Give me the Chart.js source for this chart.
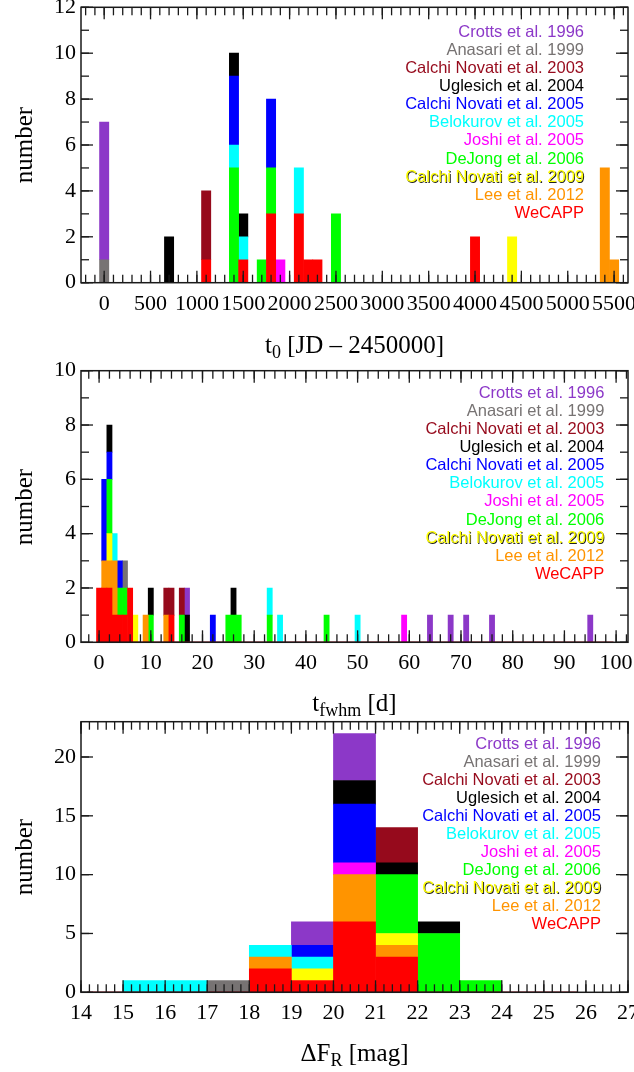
<!DOCTYPE html>
<html>
<head>
<meta charset="utf-8">
<script src="https://cdn.jsdelivr.net/npm/chart.js@4.4.1/dist/chart.umd.min.js"></script>
<style>
  html, body { margin: 0; padding: 0; background: #fff; }
  body { position: relative; width: 634px; height: 1072px; overflow: hidden; }
  canvas { position: absolute; left: 0; }
  .legend { position: absolute; text-align: right; font-family: "Liberation Sans", Arial, sans-serif;
            font-size: 16.5px; line-height: 18.1px; white-space: nowrap; }
  .xtitle { position: absolute; left: 154.5px; width: 400px; text-align: center;
            font-family: "Liberation Serif", "Times New Roman", serif; font-size: 25px; line-height: 25px; color: #000; white-space: nowrap; }
  .xtitle sub { font-size: 18px; vertical-align: -5px; line-height: 0; }
  .ytitle { position: absolute; width: 200px; text-align: center; font-family: "Liberation Serif", "Times New Roman", serif;
            font-size: 25px; line-height: 25px; color: #000; transform: translate(-50%, -50%) rotate(-90deg); }
</style>
</head>
<body>
<canvas id="panelT0" width="634" height="330" style="top:0px"></canvas>
<canvas id="panelFwhm" width="634" height="320" style="top:360px"></canvas>
<canvas id="panelDF" width="634" height="330" style="top:710px"></canvas>

<div class="ytitle" style="left:23.3px; top:145px">number</div>
<div class="ytitle" style="left:23.3px; top:506.5px">number</div>
<div class="ytitle" style="left:23.3px; top:857px">number</div>

<div class="xtitle" style="top:332px">t<sub>0</sub> [JD – 2450000]</div>
<div class="xtitle" style="top:690px">t<sub>fwhm</sub> [d]</div>
<div class="xtitle" style="top:1040px">ΔF<sub>R</sub> [mag]</div>

<div class="legend" id="legendT0" style="right:50px; top:21.9px"></div>
<div class="legend" id="legendFwhm" style="right:29.7px; top:382.9px"></div>
<div class="legend" id="legendDF" style="right:33px; top:733.5px"></div>

<script>
// Surveys, listed top to bottom as in the key (stacking goes the other way: WeCAPP at the bottom)
const surveys = [
  'Crotts et al. 1996',
  'Anasari et al. 1999',
  'Calchi Novati et al. 2003',
  'Uglesich et al. 2004',
  'Calchi Novati et al. 2005',
  'Belokurov et al. 2005',
  'Joshi et al. 2005',
  'DeJong et al. 2006',
  'Calchi Novati et al. 2009',
  'Lee et al. 2012',
  'WeCAPP'
];
const surveyColors = ['#8c38c8', '#777373', '#960a1c', '#000000', '#0000ff', '#00ffff',
                      '#ff00ff', '#00ff00', '#ffff00', '#ff9400', '#ff0000'];

// Time of maximum, t0 [JD - 2450000], one entry per event (binned to 100 d)
const t0Events = [
  [0, 0, 0, 0, 0, 0],
  [0],
  [1100, 1100, 1100],
  [700, 700, 1400, 1500],
  [1400, 1400, 1400, 1800, 1800, 1800],
  [1400, 1500, 2100, 2100],
  [1900],
  [1400, 1400, 1400, 1400, 1400, 1700, 1800, 1800, 2500, 2500, 2500],
  [4400, 4400],
  [5400, 5400, 5400, 5400, 5400, 5500],
  [1100, 1500, 1800, 1800, 1800, 2100, 2100, 2100, 2200, 2300, 4000, 4000]
];
// Full width at half maximum, t_fwhm [d], one entry per event (binned to 1 d)
const fwhmEvents = [
  [17, 64, 68, 71, 76, 95],
  [5],
  [13, 14, 16],
  [2, 10, 17, 26],
  [1, 1, 1, 2, 4, 22],
  [3, 33, 35, 50],
  [59],
  [2, 2, 4, 5, 10, 16, 25, 26, 27, 33, 44],
  [2, 7],
  [1, 2, 3, 3, 9, 13],
  [0, 0, 1, 1, 2, 2, 3, 4, 5, 6, 6, 14]
];
// Flux excess, Delta F_R [mag], one entry per event (1 mag bins)
const dfEvents = [
  [19.5, 19.5, 20.5, 20.5, 20.5, 20.5],
  [17.5],
  [21.5, 21.5, 21.5],
  [20.5, 20.5, 21.5, 22.5],
  [19.5, 20.5, 20.5, 20.5, 20.5, 20.5],
  [15.5, 16.5, 18.5, 19.5],
  [20.5],
  [21.5, 21.5, 21.5, 21.5, 21.5, 22.5, 22.5, 22.5, 22.5, 22.5, 23.5],
  [19.5, 21.5],
  [18.5, 20.5, 20.5, 20.5, 20.5, 21.5],
  [18.5, 18.5, 19.5, 20.5, 20.5, 20.5, 20.5, 20.5, 20.5, 21.5, 21.5, 21.5]
];

// Bin centres: [first, last, width]
const t0Bins = [0, 5500, 100];
const fwhmBins = [0, 99, 1];
const dfBins = [14.5, 26.5, 1];

// Extent of the zero outline drawn along the base of each histogram
const t0Outline = [-50, 5550];
const fwhmOutline = [-0.5, 99.5];
const dfOutline = [14.15, 25.8];

// Labelled ticks
const t0XTicks = [0, 500, 1000, 1500, 2000, 2500, 3000, 3500, 4000, 4500, 5000, 5500];
const t0YTicks = [0, 2, 4, 6, 8, 10, 12];
const fwhmXTicks = [0, 10, 20, 30, 40, 50, 60, 70, 80, 90, 100];
const fwhmYTicks = [0, 2, 4, 6, 8, 10];
const dfXTicks = [14, 15, 16, 17, 18, 19, 20, 21, 22, 23, 24, 25, 26, 27];
const dfYTicks = [0, 5, 10, 15, 20];

// Axis ranges and tick spacing (major / minor)
const t0Axis = { xMin: -250, xMax: 5650, xStep: 500, xMinor: 100, yMax: 12, yStep: 2, yMinor: 1 };
const fwhmAxis = { xMin: -3.5, xMax: 102.3, xStep: 10, xMinor: 2, yMax: 10, yStep: 2, yMinor: 1 };
const dfAxis = { xMin: 14, xMax: 27, xStep: 1, xMinor: 0.2, yMax: 23, yStep: 5, yMinor: 5 };

function histogram(events, bins) {
  const [first, last, width] = bins;
  const n = Math.round((last - first) / width) + 1;
  const counts = new Array(n).fill(0);
  events.forEach(v => {
    const i = Math.round((v - first) / width);
    if (i >= 0 && i < n) counts[i]++;
  });
  return counts.map((c, i) => ({ x: +(first + i * width).toFixed(6), y: c > 0 ? c : null }));
}

// Frame with inward tick marks on all four sides
const frameTicks = {
  id: 'frameTicks',
  afterDraw(chart, args, opts) {
    const { ctx, chartArea: a, scales: { x, y } } = chart;
    ctx.save();
    ctx.strokeStyle = '#1a1a1a';
    ctx.lineWidth = 1.3;
    const seg = (x1, y1, x2, y2) => { ctx.beginPath(); ctx.moveTo(x1, y1); ctx.lineTo(x2, y2); ctx.stroke(); };
    const marks = (scale, step, len, horizontal) => {
      const i0 = Math.ceil(scale.min / step - 1e-9), i1 = Math.floor(scale.max / step + 1e-9);
      for (let i = i0; i <= i1; i++) {
        const p = scale.getPixelForValue(i * step);
        if (horizontal) { seg(p, a.bottom, p, a.bottom - len); seg(p, a.top, p, a.top + len); }
        else { seg(a.left, p, a.left + len, p); seg(a.right, p, a.right - len, p); }
      }
    };
    marks(x, opts.xMinor, 8, true);
    marks(x, opts.xStep, 12, true);
    marks(y, opts.yMinor, 8, false);
    marks(y, opts.yStep, 12, false);
    ctx.lineWidth = 1.5;
    ctx.strokeRect(a.left, a.top, a.right - a.left, a.bottom - a.top);
    ctx.restore();
  }
};

Chart.defaults.font.family = '"Liberation Serif", "Times New Roman", serif';
Chart.defaults.font.size = 22;
Chart.defaults.color = '#000';

function makePanel(id, events, bins, outline, axis, xTicks, yTicks, padTop, xHeight) {
  const datasets = surveys.map((name, i) => ({
    label: name,
    data: histogram(events[i], bins),
    backgroundColor: surveyColors[i],
    borderWidth: 0
  })).reverse();
  datasets.push({
    type: 'line',
    label: 'outline',
    data: [{ x: outline[0], y: 0 }, { x: outline[1], y: 0 }],
    borderColor: '#8b0010',
    borderWidth: 1.6,
    pointRadius: 0,
    stack: 'outline',
    order: -1
  });
  return new Chart(document.getElementById(id), {
    type: 'bar',
    data: { datasets },
    options: {
      responsive: false,
      animation: false,
      devicePixelRatio: 1,
      layout: { padding: { top: padTop, right: 6, bottom: 0, left: 0 }, autoPadding: false },
      datasets: { bar: { barPercentage: 1, categoryPercentage: 1 } },
      plugins: {
        legend: { display: false },
        tooltip: { enabled: false },
        frameTicks: axis
      },
      scales: {
        x: {
          type: 'linear', min: axis.xMin, max: axis.xMax, stacked: true, offset: false,
          grid: { display: false, drawTicks: false }, border: { display: false },
          ticks: { autoSkip: false, maxRotation: 0, minRotation: 0, padding: 8, callback: v => String(v) },
          afterBuildTicks: s => { s.ticks = xTicks.map(v => ({ value: v })); },
          afterFit: s => { s.height = xHeight; s.paddingLeft = 0; s.paddingRight = 0; }
        },
        y: {
          min: 0, max: axis.yMax, stacked: true,
          grid: { display: false, drawTicks: false }, border: { display: false },
          ticks: { autoSkip: false, padding: 5, callback: v => String(v) },
          afterBuildTicks: s => { s.ticks = yTicks.map(v => ({ value: v })); },
          afterFit: s => { s.width = 81; s.paddingTop = 0; s.paddingBottom = 0; }
        }
      }
    },
    plugins: [frameTicks]
  });
}

makePanel('panelT0', t0Events, t0Bins, t0Outline, t0Axis, t0XTicks, t0YTicks, 7.3, 47.3);
makePanel('panelFwhm', fwhmEvents, fwhmBins, fwhmOutline, fwhmAxis, fwhmXTicks, fwhmYTicks, 10.7, 37.7);
makePanel('panelDF', dfEvents, dfBins, dfOutline, dfAxis, dfXTicks, dfYTicks, 11.7, 47.7);

// Keys in the upper right of each panel
['legendT0', 'legendFwhm', 'legendDF'].forEach(id => {
  const box = document.getElementById(id);
  surveys.forEach((name, i) => {
    const line = document.createElement('div');
    line.textContent = name;
    line.style.color = surveyColors[i];
    if (surveyColors[i] === '#ffff00') line.style.textShadow = '0.9px 0.9px 0 #222';
    box.appendChild(line);
  });
});
</script>
</body>
</html>
